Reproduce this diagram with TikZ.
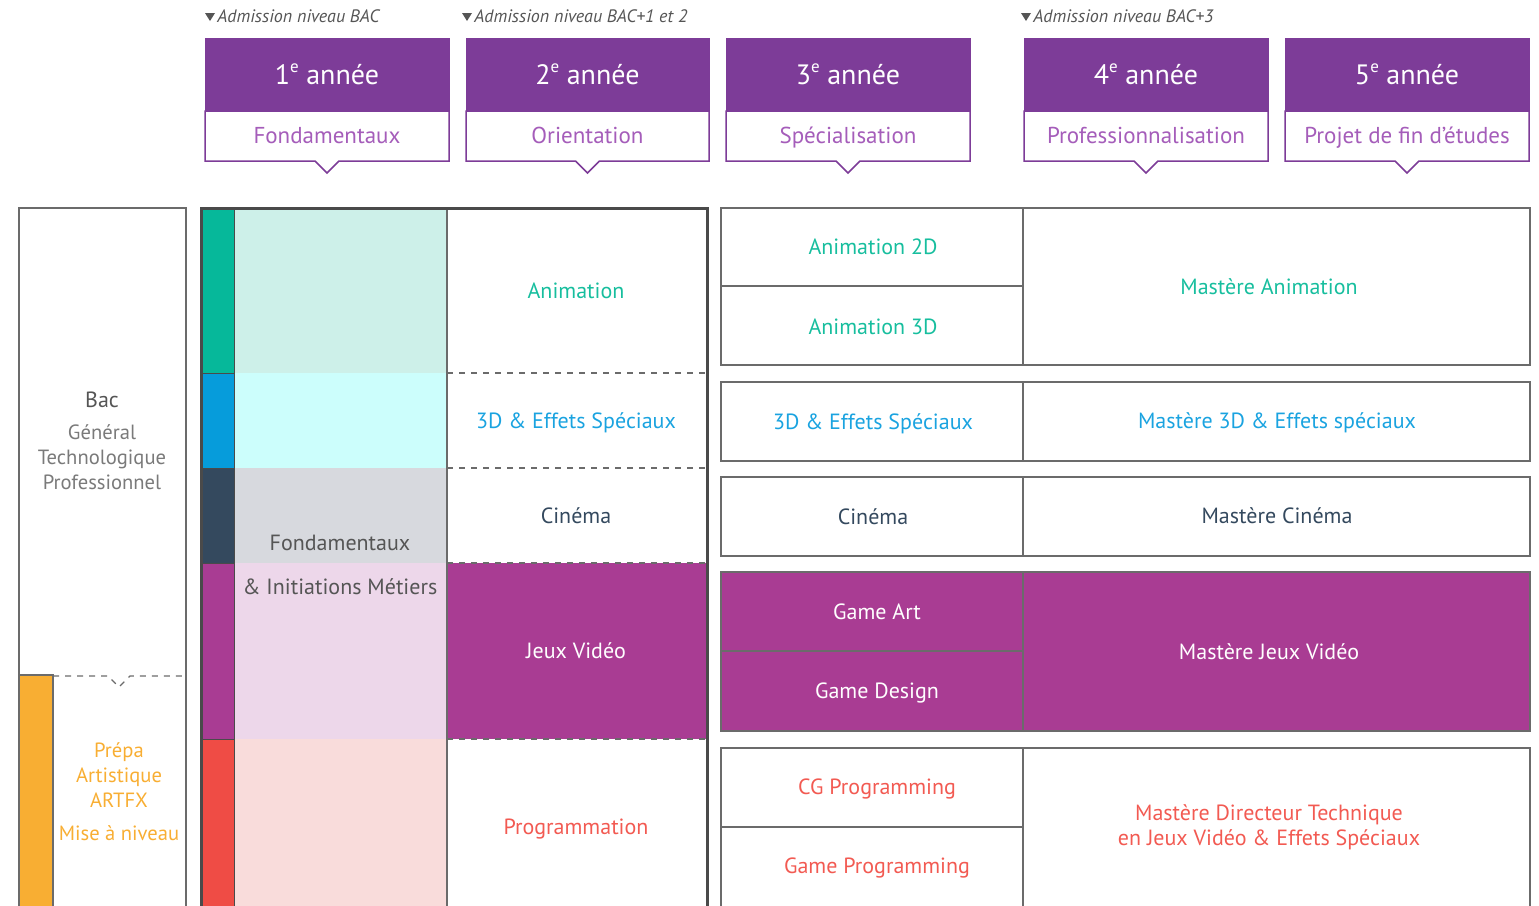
\documentclass[tikz,border=0pt]{standalone}
\usepackage{fontspec}
\setmainfont{PT Sans}

\definecolor{headpurple}{HTML}{7D3C98}
\definecolor{subpurple}{HTML}{A55DBA}
\definecolor{jvpurple}{HTML}{A93C93}
\definecolor{animteal}{HTML}{06B89A}
\definecolor{animtext}{HTML}{17BE9E}
\definecolor{vfxblue}{HTML}{069CDB}
\definecolor{vfxtext}{HTML}{1AA3E0}
\definecolor{cinenavy}{HTML}{34495E}
\definecolor{progred}{HTML}{EF4C45}
\definecolor{progtext}{HTML}{F25A52}
\definecolor{prepaorange}{HTML}{F8AE33}
\definecolor{linegray}{HTML}{6B6B6B}
\definecolor{framegray}{HTML}{4A4A4A}
\definecolor{textgray}{HTML}{555555}
\definecolor{lightgray}{HTML}{7A7A7A}
\definecolor{teallight}{HTML}{CDF0E9}
\definecolor{cyanlight}{HTML}{CCFEFC}
\definecolor{navylight}{HTML}{D7D9DE}
\definecolor{purplelight}{HTML}{EDD7EA}
\definecolor{redlight}{HTML}{F9DCDB}

\newcommand{\supe}{\raisebox{0.42em}{\fontsize{8.5}{9}\selectfont e}}

\tikzset{
	yearhead/.style={text=white, font=\fontsize{14}{16}\selectfont, text height=0.72em, text depth=0em},
	yearsub/.style={text=subpurple, font=\fontsize{11.5}{14}\selectfont, text height=0.72em, text depth=0em},
	admit/.style={anchor=west, text=textgray, font=\fontsize{9}{11}\selectfont\itshape, inner sep=0pt},
	lbl/.style={font=\fontsize{11}{12.5}\selectfont, inner sep=0pt, text height=0.72em, text depth=0em},
	lblm/.style={font=\fontsize{11}{12.5}\selectfont, align=center, inner sep=0pt},
	lbls/.style={font=\fontsize{10.3}{12.5}\selectfont, align=center, inner sep=0pt},
	thin/.style={linegray, line width=0.75pt}
}

\begin{document}
\begin{tikzpicture}[x=0.5pt, y=-0.5pt]
	\useasboundingbox (0,0) rectangle (1539,906);
	\clip (0,0) rectangle (1539,906);

	% admission levels
	\fill [textgray] (205,13) -- (215,13) -- (210,21) -- cycle;
	\draw (217,16) node (adm1) [admit] {Admission niveau BAC};
	\fill [textgray] (462,13) -- (472,13) -- (467,21) -- cycle;
	\draw (474,16) node (adm2) [admit] {Admission niveau BAC+1 et 2};
	\fill [textgray] (1021,13) -- (1031,13) -- (1026,21) -- cycle;
	\draw (1033,16) node (adm3) [admit] {Admission niveau BAC+3};

	% years
	\draw [headpurple, fill=headpurple] (205,38) rectangle (449,111);
	\draw [headpurple, fill=white, line width=0.75pt] (205,111) -- (449,111) -- (449,161) -- (339,161) -- (327,173) -- (315,161) -- (205,161) -- cycle;
	\draw (327,77) node (year1) [yearhead] {1\supe{} année};
	\draw (327,136) node (sub1) [yearsub] {Fondamentaux};

	\draw [headpurple, fill=headpurple] (466,38) rectangle (709,111);
	\draw [headpurple, fill=white, line width=0.75pt] (466,111) -- (709,111) -- (709,161) -- (599.5,161) -- (587.5,173) -- (575.5,161) -- (466,161) -- cycle;
	\draw (587.5,77) node (year2) [yearhead] {2\supe{} année};
	\draw (587.5,136) node (sub2) [yearsub] {Orientation};

	\draw [headpurple, fill=headpurple] (726,38) rectangle (970,111);
	\draw [headpurple, fill=white, line width=0.75pt] (726,111) -- (970,111) -- (970,161) -- (860,161) -- (848,173) -- (836,161) -- (726,161) -- cycle;
	\draw (848,77) node (year3) [yearhead] {3\supe{} année};
	\draw (848,136) node (sub3) [yearsub] {Spécialisation};

	\draw [headpurple, fill=headpurple] (1024,38) rectangle (1268,111);
	\draw [headpurple, fill=white, line width=0.75pt] (1024,111) -- (1268,111) -- (1268,161) -- (1158,161) -- (1146,173) -- (1134,161) -- (1024,161) -- cycle;
	\draw (1146,77) node (year4) [yearhead] {4\supe{} année};
	\draw (1146,136) node (sub4) [yearsub] {Professionnalisation};

	\draw [headpurple, fill=headpurple] (1285,38) rectangle (1529,111);
	\draw [headpurple, fill=white, line width=0.75pt] (1285,111) -- (1529,111) -- (1529,161) -- (1419,161) -- (1407,173) -- (1395,161) -- (1285,161) -- cycle;
	\draw (1407,77) node (year5) [yearhead] {5\supe{} année};
	\draw (1407,136) node (sub5) [yearsub] {Projet de fin d’études};

	% bac and prepa
	\draw [thin] (19,208) rectangle (186,930);
	\draw [linegray, fill=prepaorange, line width=0.75pt] (19,675) rectangle (53,930);
	\draw [linegray, dashed, line width=0.6pt] (53,676) -- (108,676) -- (119,687) -- (130,676) -- (186,676);
	\draw (102,400) node (bac) [lbl, text=textgray] {Bac};
	\draw (102,457) node (bactypes) [lbls, text=lightgray] {Général\\Technologique\\Professionnel};
	\draw (119,775) node (prepa) [lbls, text=prepaorange] {Prépa\\Artistique\\ARTFX};
	\draw (119,833) node (miseniveau) [lbls, text=prepaorange] {Mise à niveau};

	% first and second year
	\fill [teallight] (234,208) rectangle (447,373);
	\fill [cyanlight] (234,373) rectangle (447,468);
	\fill [navylight] (234,468) rectangle (447,563);
	\fill [purplelight] (234,563) rectangle (447,739);
	\fill [redlight] (234,739) rectangle (447,930);
	\draw [framegray, fill=animteal] (201,208) rectangle (234,373);
	\draw [framegray, fill=vfxblue] (201,373) rectangle (234,468);
	\draw [framegray, fill=cinenavy] (201,468) rectangle (234,563);
	\draw [framegray, fill=jvpurple] (201,563) rectangle (234,739);
	\draw [framegray, fill=progred] (201,739) rectangle (234,930);
	\fill [jvpurple] (447,563) rectangle (707,739);
	\draw [thin] (447,208) -- (447,930);
	\draw [linegray, dashed, line width=0.6pt] (447,373) -- (707,373);
	\draw [linegray, dashed, line width=0.6pt] (447,468) -- (707,468);
	\draw [linegray, dashed, line width=0.6pt] (447,563) -- (707,563);
	\draw [linegray, dashed, line width=0.6pt] (447,739) -- (707,739);
	\draw [framegray, line width=1.5pt] (201,208) rectangle (707,930);

	\draw (340,543) node (fonda) [lbl, text=textgray] {Fondamentaux};
	\draw (340,587) node (initiations) [lbl, text=textgray] {\& Initiations Métiers};
	\draw (576,291) node (anim) [lbl, text=animtext] {Animation};
	\draw (576,421) node (vfx) [lbl, text=vfxtext] {3D \& Effets Spéciaux};
	\draw (576,516) node (cine) [lbl, text=cinenavy] {Cinéma};
	\draw (576,651) node (jv) [lbl, text=white] {Jeux Vidéo};
	\draw (576,827) node (prog) [lbl, text=progtext] {Programmation};

	% third to fifth year
	\draw [thin] (721,208) rectangle (1530,365);
	\draw [thin] (1023,208) -- (1023,365);
	\draw [thin] (721,286) -- (1023,286);
	\draw (873,247) node (anim2d) [lbl, text=animtext] {Animation 2D};
	\draw (873,327) node (anim3d) [lbl, text=animtext] {Animation 3D};
	\draw (1269,287) node (manim) [lbl, text=animtext] {Mastère Animation};

	\draw [thin] (721,382) rectangle (1530,461);
	\draw [thin] (1023,382) -- (1023,461);
	\draw (873,422) node (vfx3) [lbl, text=vfxtext] {3D \& Effets Spéciaux};
	\draw (1277,421) node (mvfx) [lbl, text=vfxtext] {Mastère 3D \& Effets spéciaux};

	\draw [thin] (721,477) rectangle (1530,556);
	\draw [thin] (1023,477) -- (1023,556);
	\draw (873,517) node (cine3) [lbl, text=cinenavy] {Cinéma};
	\draw (1277,516) node (mcine) [lbl, text=cinenavy] {Mastère Cinéma};

	\draw [thin, fill=jvpurple] (721,572) rectangle (1530,731);
	\draw [thin] (1023,572) -- (1023,731);
	\draw [thin] (721,651) -- (1023,651);
	\draw (877,612) node (gameart) [lbl, text=white] {Game Art};
	\draw (877,691) node (gamedesign) [lbl, text=white] {Game Design};
	\draw (1269,652) node (mjv) [lbl, text=white] {Mastère Jeux Vidéo};

	\draw [thin] (721,748) rectangle (1530,930);
	\draw [thin] (1023,748) -- (1023,930);
	\draw [thin] (721,827) -- (1023,827);
	\draw (877,787) node (cgprog) [lbl, text=progtext] {CG Programming};
	\draw (877,866) node (gameprog) [lbl, text=progtext] {Game Programming};
	\draw (1269,827) node (mtech) [lblm, text=progtext] {Mastère Directeur Technique\\en Jeux Vidéo \& Effets Spéciaux};
\end{tikzpicture}
\end{document}
